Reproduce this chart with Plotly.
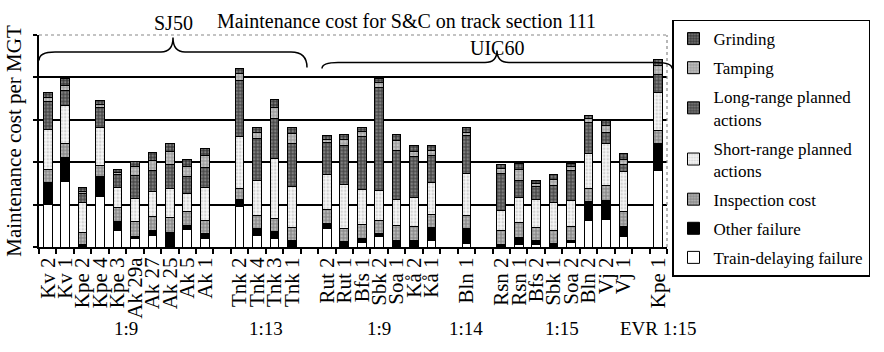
import plotly.graph_objects as go

# Switches (S&C) grouped by turnout geometry, left to right
groups = ["1:9", "1:13", "1:9", "1:14", "1:15", "EVR 1:15"]
switches = [
    ["Kv 2", "Kv 1", "Kpe 2", "Kpe 4", "Kpe 3", "Ak 29a", "Ak 27", "Ak 25", "Ak 5", "Ak 1"],
    ["Tnk 2", "Tnk 4", "Tnk 3", "Tnk 1"],
    ["Rut 2", "Rut 1", "Bfs 1", "Sbk 2", "Soa 1", "Kå 2", "Kå 1"],
    ["Bln 1"],
    ["Rsn 2", "Rsn 1", "Bfs 2", "Sbk 1", "Soa 2", "Bln 2", "Vj 2", "Vj 1"],
    ["Kpe 1"],
]

# Maintenance cost per MGT, one value per switch (same order as above)
train_delaying = [1.00, 1.54, 0.00, 1.18, 0.40, 0.20, 0.28, 0.00, 0.42, 0.20,
                  0.95, 0.26, 0.20, 0.00,
                  0.44, 0.00, 0.10, 0.24, 0.00, 0.00, 0.16,
                  0.09,
                  0.00, 0.05, 0.07, 0.00, 0.10, 0.62, 0.65, 0.24,
                  1.80]
other_failure = [0.52, 0.57, 0.07, 0.49, 0.20, 0.05, 0.12, 0.35, 0.08, 0.12,
                 0.16, 0.18, 0.16, 0.16,
                 0.12, 0.12, 0.10, 0.08, 0.16, 0.15, 0.30,
                 0.35,
                 0.07, 0.18, 0.09, 0.09, 0.06, 0.45, 0.44, 0.24,
                 0.63]
inspection = [0.30, 0.33, 0.27, 0.26, 0.34, 0.34, 0.31, 0.34, 0.34, 0.30,
              0.28, 0.31, 0.31, 0.31,
              0.33, 0.31, 0.34, 0.31, 0.35, 0.33, 0.31,
              0.31,
              0.33, 0.34, 0.30, 0.31, 0.33, 0.31, 0.35, 0.35,
              0.31]
short_range = [0.95, 0.90, 0.70, 0.90, 0.47, 0.55, 0.59, 0.70, 0.42, 0.78,
               1.21, 0.82, 1.41, 0.96,
               0.83, 1.04, 0.82, 0.71, 0.60, 0.69, 0.74,
               0.98,
               0.45, 0.60, 0.66, 0.64, 0.61, 0.82, 0.99, 0.94,
               0.90]
long_range = [0.65, 0.35, 0.22, 0.45, 0.30, 0.55, 0.50, 0.56, 0.41, 0.48,
              1.33, 0.98, 0.94, 1.00,
              0.74, 0.92, 1.24, 2.43, 1.16, 0.96, 0.65,
              0.90,
              0.88, 0.41, 0.30, 0.42, 0.71, 0.74, 0.26, 0.17,
              0.44]
tamping = [0.10, 0.13, 0.05, 0.08, 0.05, 0.20, 0.25, 0.31, 0.24, 0.27,
           0.16, 0.15, 0.27, 0.24,
           0.08, 0.15, 0.12, 0.10, 0.24, 0.12, 0.12,
           0.08,
           0.12, 0.24, 0.07, 0.14, 0.08, 0.08, 0.18, 0.12,
           0.20]
grinding = [0.12, 0.15, 0.10, 0.10, 0.07, 0.13, 0.17, 0.17, 0.16, 0.17,
            0.12, 0.12, 0.18, 0.15,
            0.08, 0.12, 0.10, 0.10, 0.15, 0.15, 0.12,
            0.10,
            0.10, 0.14, 0.07, 0.10, 0.08, 0.09, 0.12, 0.14,
            0.15]

# Stack order (bottom to top) with grey-scale stipple fills
series = [
    ("Train-delaying failure", train_delaying, "white", "white", ""),
    ("Other failure", other_failure, "black", "black", ""),
    ("Inspection cost", inspection, "#8c8c8c", "#e6e6e6", "."),
    ("Short-range planned<br>actions", short_range, "#f6f6f6", "#b0b0b0", "."),
    ("Long-range planned<br>actions", long_range, "#4a4a4a", "#b4b4b4", "."),
    ("Tamping", tamping, "#a0a0a0", "#f0f0f0", "."),
    ("Grinding", grinding, "#3a3a3a", "#c4c4c4", "."),
]

# Category axis: switches with an empty slot between geometry groups
x_cats, idx_map, group_centers = [], [], []
for g, names in enumerate(switches):
    if g > 0:
        x_cats.append(" " * g)
        idx_map.append(None)
    start = len(x_cats)
    for k, n in enumerate(names):
        x_cats.append(n)
        idx_map.append(sum(len(s) for s in switches[:g]) + k)
    group_centers.append((start + len(x_cats) - 1) / 2)

FONT = "Liberation Serif"
fig = go.Figure()
for i, (name, vals, bg, fg, shape) in enumerate(series):
    y = [None if j is None else vals[j] for j in idx_map]
    fig.add_trace(go.Bar(
        x=x_cats, y=y, name=name, legendgroup=str(i),
        legendrank=100 - 10 * i, width=0.5,
        marker=dict(color=bg, line=dict(color="black", width=1),
                    pattern=dict(shape=shape, fgcolor=fg, bgcolor=bg,
                                 size=3.5, solidity=0.4)),
    ))

L, R, T, B = 39, 217, 34.5, 105
W, H = 884, 352
pw, ph = W - L - R, H - T - B


def px(xp):
    return (xp - L) / pw


def py(yp):
    return (H - B - yp) / ph


def brace(x0, x1, xc, yl, yr, ym, yc, r=16, rc=12):
    return (f"M{px(x0)},{py(yl)} Q{px(x0)},{py(ym)} {px(x0 + r)},{py(ym)} "
            f"L{px(xc - rc)},{py(ym)} Q{px(xc)},{py(ym)} {px(xc)},{py(yc)} "
            f"Q{px(xc)},{py(ym)} {px(xc + rc)},{py(ym)} "
            f"L{px(x1 - r)},{py(ym)} Q{px(x1)},{py(ym)} {px(x1)},{py(yr)}")


shapes = [
    dict(type="line", xref="paper", yref="paper", x0=0, x1=1, y0=1, y1=1,
         line=dict(color="#888", width=1.2, dash="dot")),
    dict(type="line", xref="paper", yref="paper", x0=1, x1=1, y0=0, y1=1,
         line=dict(color="#888", width=1.2, dash="dot")),
    dict(type="path", xref="paper", yref="paper",
         path=brace(39, 307, 173, 60, 67, 51.5, 37),
         line=dict(color="black", width=1.5)),
    dict(type="path", xref="paper", yref="paper",
         path=brace(322, 672, 497, 68, 68, 62, 50),
         line=dict(color="black", width=1.5)),
]

annotations = [
    dict(text="SJ50", x=px(173), y=py(22), xref="paper", yref="paper",
         xanchor="center", yanchor="middle", showarrow=False,
         font=dict(family=FONT, size=20, color="black")),
    dict(text="UIC60", x=px(497), y=py(48), xref="paper", yref="paper",
         xanchor="center", yanchor="middle", showarrow=False,
         font=dict(family=FONT, size=20, color="black")),
]
for g, c in zip(groups, group_centers):
    annotations.append(dict(text=g, x=c, y=py(329), xref="x", yref="paper",
                            xanchor="center", yanchor="middle",
                            showarrow=False,
                            font=dict(family=FONT, size=19, color="black")))

fig.update_layout(
    width=W, height=H, margin=dict(l=L, r=R, t=T, b=B, autoexpand=False),
    barmode="stack", bargap=0.5,
    paper_bgcolor="white", plot_bgcolor="white",
    font=dict(family=FONT, color="black"),
    title=dict(text="Maintenance cost for S&C on track section 111",
               x=px(217), xanchor="left", xref="paper",
               y=1 - 21 / H, yanchor="middle",
               font=dict(family=FONT, size=20, color="black")),
    xaxis=dict(type="category", categoryorder="array", categoryarray=x_cats,
               range=[-0.5, len(x_cats) - 0.5], tickangle=-90,
               tickmode="linear", tick0=0, dtick=1,
               tickson="boundaries", ticks="outside", ticklen=5,
               tickcolor="black", tickwidth=1.5,
               showline=True, linecolor="black", linewidth=2,
               showgrid=False, automargin=False,
               tickfont=dict(family=FONT, size=21, color="black")),
    yaxis=dict(range=[0, 5], tickvals=[0, 1, 2, 3, 4],
               showticklabels=False, ticks="outside", ticklen=4,
               tickcolor="black", tickwidth=1.5,
               minor=dict(tickmode="array", tickvals=[5], ticks="outside",
                          ticklen=4, tickwidth=1.5, tickcolor="black",
                          showgrid=False),
               showgrid=True, gridcolor="black", gridwidth=1.5,
               zeroline=False, showline=True, linecolor="black", linewidth=1.5,
               automargin=False,
               title=dict(text="Maintenance cost per MGT", standoff=6,
                          font=dict(family=FONT, size=21, color="black"))),
    legend=dict(x=px(672), y=py(19), xanchor="left", yanchor="top",
                traceorder="grouped", tracegroupgap=4, maxheight=1.0,
                bordercolor="black", borderwidth=1.5, bgcolor="white",
                font=dict(family=FONT, size=17, color="black")),
    shapes=shapes, annotations=annotations,
)

fig.write_html("out.html")
